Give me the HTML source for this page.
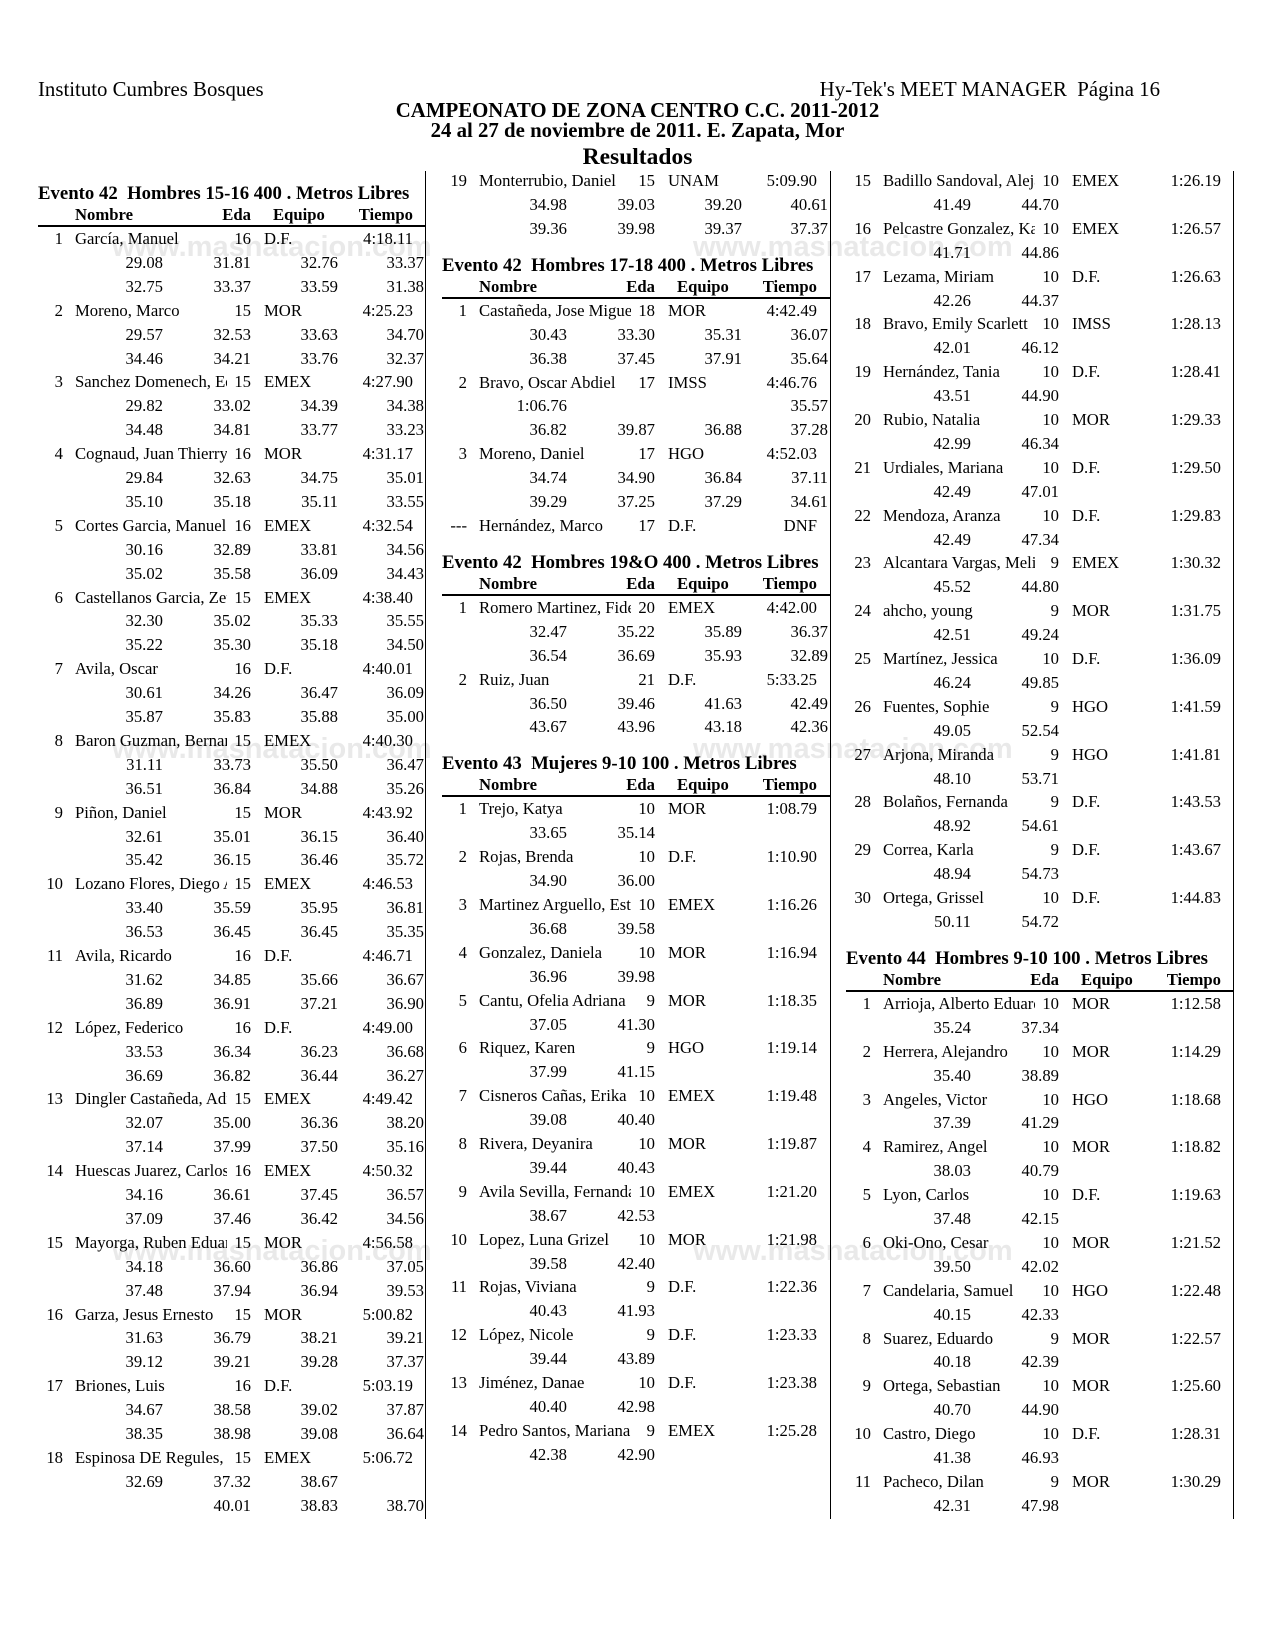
<!DOCTYPE html>
<html>
<head>
<meta charset="utf-8">
<style>
html,body{margin:0;padding:0;}
body{width:1275px;height:1650px;background:#fff;position:relative;overflow:hidden;font-family:"Liberation Serif","Times New Roman",serif;color:#000;}
.hd{position:absolute;font-size:20.83px;line-height:24px;white-space:pre;}
.bd{font-weight:bold;}
.c{position:absolute;top:0;width:390px;height:1650px;}
.r{position:absolute;left:0;width:390px;height:20px;line-height:20px;font-size:16.67px;white-space:nowrap;}
.r span{position:absolute;top:0;white-space:nowrap;}
.p{left:0;width:25px;text-align:right;}
.n{left:37px;width:152px;overflow:hidden;}
.a{left:190px;width:23px;text-align:right;}
.t{left:226px;}
.m{left:295px;width:80px;text-align:right;}
.s1{left:55px;width:70px;text-align:right;}
.s2{left:143px;width:70px;text-align:right;}
.s3{left:230px;width:70px;text-align:right;}
.s4{left:316px;width:70px;text-align:right;}
.ti{position:absolute;left:0;font-weight:bold;font-size:18.75px;line-height:22px;white-space:pre;}
.h{position:absolute;left:0;width:390px;height:20px;line-height:20px;font-size:16.67px;font-weight:bold;}
.h span{position:absolute;top:0;}
.ul{position:absolute;left:0;width:388px;height:2px;background:#000;}
.vl{position:absolute;width:1px;background:#000;top:171px;height:1348px;}
.wm{position:absolute;font-family:"Liberation Sans","DejaVu Sans",sans-serif;font-weight:bold;font-size:29px;line-height:29px;color:#e9e9e9;white-space:nowrap;}
</style>
</head>
<body>
<!-- watermarks -->
<div class="wm" style="left:112px;top:233px">www.masnatacion.com</div>
<div class="wm" style="left:693px;top:233px">www.masnatacion.com</div>
<div class="wm" style="left:112px;top:735px">www.masnatacion.com</div>
<div class="wm" style="left:693px;top:735px">www.masnatacion.com</div>
<div class="wm" style="left:112px;top:1237px">www.masnatacion.com</div>
<div class="wm" style="left:693px;top:1237px">www.masnatacion.com</div>

<!-- header -->
<div class="hd" style="left:38px;top:77px">Instituto Cumbres Bosques</div>
<div class="hd" style="right:115px;top:77px">Hy-Tek's MEET MANAGER  Página 16</div>
<div class="hd bd" style="left:0;width:1275px;text-align:center;top:98px">CAMPEONATO DE ZONA CENTRO C.C. 2011-2012</div>
<div class="hd bd" style="left:0;width:1275px;text-align:center;top:118px">24 al 27 de noviembre de 2011. E. Zapata, Mor</div>
<div class="hd bd" style="left:0;width:1275px;text-align:center;top:143px;font-size:23.5px;line-height:28px">Resultados</div>

<div class="vl" style="left:425px"></div>
<div class="vl" style="left:830px"></div>
<div class="vl" style="left:1233px"></div>

<!-- COLUMN 1 -->
<div class="c" style="left:38px">
<div class="ti" style="top:183px">Evento 42  Hombres 15-16 400 . Metros Libres</div>
<div class="h" style="top:205px"><span style="left:37px">Nombre</span><span style="left:163px;width:50px;text-align:right">Eda</span><span style="left:235px">Equipo</span><span style="left:295px;width:80px;text-align:right">Tiempo</span></div>
<div class="ul" style="top:225px"></div>

<div class="r" style="top:229px"><span class="p">1</span><span class="n">García, Manuel</span><span class="a">16</span><span class="t">D.F.</span><span class="m">4:18.11</span></div>
<div class="r" style="top:252.9px"><span class="s1">29.08</span><span class="s2">31.81</span><span class="s3">32.76</span><span class="s4">33.37</span></div>
<div class="r" style="top:276.8px"><span class="s1">32.75</span><span class="s2">33.37</span><span class="s3">33.59</span><span class="s4">31.38</span></div>

<div class="r" style="top:300.7px"><span class="p">2</span><span class="n">Moreno, Marco</span><span class="a">15</span><span class="t">MOR</span><span class="m">4:25.23</span></div>
<div class="r" style="top:324.6px"><span class="s1">29.57</span><span class="s2">32.53</span><span class="s3">33.63</span><span class="s4">34.70</span></div>
<div class="r" style="top:348.5px"><span class="s1">34.46</span><span class="s2">34.21</span><span class="s3">33.76</span><span class="s4">32.37</span></div>

<div class="r" style="top:372.4px"><span class="p">3</span><span class="n">Sanchez Domenech, Eduardo</span><span class="a">15</span><span class="t">EMEX</span><span class="m">4:27.90</span></div>
<div class="r" style="top:396.3px"><span class="s1">29.82</span><span class="s2">33.02</span><span class="s3">34.39</span><span class="s4">34.38</span></div>
<div class="r" style="top:420.2px"><span class="s1">34.48</span><span class="s2">34.81</span><span class="s3">33.77</span><span class="s4">33.23</span></div>

<div class="r" style="top:444.1px"><span class="p">4</span><span class="n">Cognaud, Juan Thierry</span><span class="a">16</span><span class="t">MOR</span><span class="m">4:31.17</span></div>
<div class="r" style="top:468px"><span class="s1">29.84</span><span class="s2">32.63</span><span class="s3">34.75</span><span class="s4">35.01</span></div>
<div class="r" style="top:491.9px"><span class="s1">35.10</span><span class="s2">35.18</span><span class="s3">35.11</span><span class="s4">33.55</span></div>

<div class="r" style="top:515.8px"><span class="p">5</span><span class="n">Cortes Garcia, Manuel</span><span class="a">16</span><span class="t">EMEX</span><span class="m">4:32.54</span></div>
<div class="r" style="top:539.7px"><span class="s1">30.16</span><span class="s2">32.89</span><span class="s3">33.81</span><span class="s4">34.56</span></div>
<div class="r" style="top:563.6px"><span class="s1">35.02</span><span class="s2">35.58</span><span class="s3">36.09</span><span class="s4">34.43</span></div>

<div class="r" style="top:587.5px"><span class="p">6</span><span class="n">Castellanos Garcia, Zeus</span><span class="a">15</span><span class="t">EMEX</span><span class="m">4:38.40</span></div>
<div class="r" style="top:611.4px"><span class="s1">32.30</span><span class="s2">35.02</span><span class="s3">35.33</span><span class="s4">35.55</span></div>
<div class="r" style="top:635.3px"><span class="s1">35.22</span><span class="s2">35.30</span><span class="s3">35.18</span><span class="s4">34.50</span></div>

<div class="r" style="top:659.2px"><span class="p">7</span><span class="n">Avila, Oscar</span><span class="a">16</span><span class="t">D.F.</span><span class="m">4:40.01</span></div>
<div class="r" style="top:683.1px"><span class="s1">30.61</span><span class="s2">34.26</span><span class="s3">36.47</span><span class="s4">36.09</span></div>
<div class="r" style="top:707px"><span class="s1">35.87</span><span class="s2">35.83</span><span class="s3">35.88</span><span class="s4">35.00</span></div>

<div class="r" style="top:730.9px"><span class="p">8</span><span class="n">Baron Guzman, Bernardo</span><span class="a">15</span><span class="t">EMEX</span><span class="m">4:40.30</span></div>
<div class="r" style="top:754.8px"><span class="s1">31.11</span><span class="s2">33.73</span><span class="s3">35.50</span><span class="s4">36.47</span></div>
<div class="r" style="top:778.7px"><span class="s1">36.51</span><span class="s2">36.84</span><span class="s3">34.88</span><span class="s4">35.26</span></div>

<div class="r" style="top:802.6px"><span class="p">9</span><span class="n">Piñon, Daniel</span><span class="a">15</span><span class="t">MOR</span><span class="m">4:43.92</span></div>
<div class="r" style="top:826.5px"><span class="s1">32.61</span><span class="s2">35.01</span><span class="s3">36.15</span><span class="s4">36.40</span></div>
<div class="r" style="top:850.4px"><span class="s1">35.42</span><span class="s2">36.15</span><span class="s3">36.46</span><span class="s4">35.72</span></div>

<div class="r" style="top:874.3px"><span class="p">10</span><span class="n">Lozano Flores, Diego A</span><span class="a">15</span><span class="t">EMEX</span><span class="m">4:46.53</span></div>
<div class="r" style="top:898.2px"><span class="s1">33.40</span><span class="s2">35.59</span><span class="s3">35.95</span><span class="s4">36.81</span></div>
<div class="r" style="top:922.1px"><span class="s1">36.53</span><span class="s2">36.45</span><span class="s3">36.45</span><span class="s4">35.35</span></div>

<div class="r" style="top:946px"><span class="p">11</span><span class="n">Avila, Ricardo</span><span class="a">16</span><span class="t">D.F.</span><span class="m">4:46.71</span></div>
<div class="r" style="top:969.9px"><span class="s1">31.62</span><span class="s2">34.85</span><span class="s3">35.66</span><span class="s4">36.67</span></div>
<div class="r" style="top:993.8px"><span class="s1">36.89</span><span class="s2">36.91</span><span class="s3">37.21</span><span class="s4">36.90</span></div>

<div class="r" style="top:1017.7px"><span class="p">12</span><span class="n">López, Federico</span><span class="a">16</span><span class="t">D.F.</span><span class="m">4:49.00</span></div>
<div class="r" style="top:1041.6px"><span class="s1">33.53</span><span class="s2">36.34</span><span class="s3">36.23</span><span class="s4">36.68</span></div>
<div class="r" style="top:1065.5px"><span class="s1">36.69</span><span class="s2">36.82</span><span class="s3">36.44</span><span class="s4">36.27</span></div>

<div class="r" style="top:1089.4px"><span class="p">13</span><span class="n">Dingler Castañeda, Adrian</span><span class="a">15</span><span class="t">EMEX</span><span class="m">4:49.42</span></div>
<div class="r" style="top:1113.3px"><span class="s1">32.07</span><span class="s2">35.00</span><span class="s3">36.36</span><span class="s4">38.20</span></div>
<div class="r" style="top:1137.2px"><span class="s1">37.14</span><span class="s2">37.99</span><span class="s3">37.50</span><span class="s4">35.16</span></div>

<div class="r" style="top:1161.1px"><span class="p">14</span><span class="n">Huescas Juarez, Carlos</span><span class="a">16</span><span class="t">EMEX</span><span class="m">4:50.32</span></div>
<div class="r" style="top:1185px"><span class="s1">34.16</span><span class="s2">36.61</span><span class="s3">37.45</span><span class="s4">36.57</span></div>
<div class="r" style="top:1208.9px"><span class="s1">37.09</span><span class="s2">37.46</span><span class="s3">36.42</span><span class="s4">34.56</span></div>

<div class="r" style="top:1232.8px"><span class="p">15</span><span class="n">Mayorga, Ruben Eduardo</span><span class="a">15</span><span class="t">MOR</span><span class="m">4:56.58</span></div>
<div class="r" style="top:1256.7px"><span class="s1">34.18</span><span class="s2">36.60</span><span class="s3">36.86</span><span class="s4">37.05</span></div>
<div class="r" style="top:1280.6px"><span class="s1">37.48</span><span class="s2">37.94</span><span class="s3">36.94</span><span class="s4">39.53</span></div>

<div class="r" style="top:1304.5px"><span class="p">16</span><span class="n">Garza, Jesus Ernesto</span><span class="a">15</span><span class="t">MOR</span><span class="m">5:00.82</span></div>
<div class="r" style="top:1328.4px"><span class="s1">31.63</span><span class="s2">36.79</span><span class="s3">38.21</span><span class="s4">39.21</span></div>
<div class="r" style="top:1352.3px"><span class="s1">39.12</span><span class="s2">39.21</span><span class="s3">39.28</span><span class="s4">37.37</span></div>

<div class="r" style="top:1376.2px"><span class="p">17</span><span class="n">Briones, Luis</span><span class="a">16</span><span class="t">D.F.</span><span class="m">5:03.19</span></div>
<div class="r" style="top:1400.1px"><span class="s1">34.67</span><span class="s2">38.58</span><span class="s3">39.02</span><span class="s4">37.87</span></div>
<div class="r" style="top:1424px"><span class="s1">38.35</span><span class="s2">38.98</span><span class="s3">39.08</span><span class="s4">36.64</span></div>

<div class="r" style="top:1447.9px"><span class="p">18</span><span class="n">Espinosa DE Regules, </span><span class="a">15</span><span class="t">EMEX</span><span class="m">5:06.72</span></div>
<div class="r" style="top:1471.8px"><span class="s1">32.69</span><span class="s2">37.32</span><span class="s3">38.67</span></div>
<div class="r" style="top:1495.7px"><span class="s2">40.01</span><span class="s3">38.83</span><span class="s4">38.70</span></div>
</div>

<!-- COLUMN 2 -->
<div class="c" style="left:442px">
<div class="r" style="top:171px"><span class="p">19</span><span class="n">Monterrubio, Daniel</span><span class="a">15</span><span class="t">UNAM</span><span class="m">5:09.90</span></div>
<div class="r" style="top:194.9px"><span class="s1">34.98</span><span class="s2">39.03</span><span class="s3">39.20</span><span class="s4">40.61</span></div>
<div class="r" style="top:218.8px"><span class="s1">39.36</span><span class="s2">39.98</span><span class="s3">39.37</span><span class="s4">37.37</span></div>

<div class="ti" style="top:254.8px">Evento 42  Hombres 17-18 400 . Metros Libres</div>
<div class="h" style="top:276.8px"><span style="left:37px">Nombre</span><span style="left:163px;width:50px;text-align:right">Eda</span><span style="left:235px">Equipo</span><span style="left:295px;width:80px;text-align:right">Tiempo</span></div>
<div class="ul" style="top:296.8px"></div>

<div class="r" style="top:300.8px"><span class="p">1</span><span class="n">Castañeda, Jose Miguel</span><span class="a">18</span><span class="t">MOR</span><span class="m">4:42.49</span></div>
<div class="r" style="top:324.7px"><span class="s1">30.43</span><span class="s2">33.30</span><span class="s3">35.31</span><span class="s4">36.07</span></div>
<div class="r" style="top:348.6px"><span class="s1">36.38</span><span class="s2">37.45</span><span class="s3">37.91</span><span class="s4">35.64</span></div>

<div class="r" style="top:372.5px"><span class="p">2</span><span class="n">Bravo, Oscar Abdiel</span><span class="a">17</span><span class="t">IMSS</span><span class="m">4:46.76</span></div>
<div class="r" style="top:396.4px"><span class="s1">1:06.76</span><span class="s4">35.57</span></div>
<div class="r" style="top:420.3px"><span class="s1">36.82</span><span class="s2">39.87</span><span class="s3">36.88</span><span class="s4">37.28</span></div>

<div class="r" style="top:444.2px"><span class="p">3</span><span class="n">Moreno, Daniel</span><span class="a">17</span><span class="t">HGO</span><span class="m">4:52.03</span></div>
<div class="r" style="top:468.1px"><span class="s1">34.74</span><span class="s2">34.90</span><span class="s3">36.84</span><span class="s4">37.11</span></div>
<div class="r" style="top:492px"><span class="s1">39.29</span><span class="s2">37.25</span><span class="s3">37.29</span><span class="s4">34.61</span></div>

<div class="r" style="top:515.9px"><span class="p">---</span><span class="n">Hernández, Marco</span><span class="a">17</span><span class="t">D.F.</span><span class="m">DNF</span></div>

<div class="ti" style="top:551.9px">Evento 42  Hombres 19&amp;O 400 . Metros Libres</div>
<div class="h" style="top:573.9px"><span style="left:37px">Nombre</span><span style="left:163px;width:50px;text-align:right">Eda</span><span style="left:235px">Equipo</span><span style="left:295px;width:80px;text-align:right">Tiempo</span></div>
<div class="ul" style="top:593.9px"></div>

<div class="r" style="top:597.9px"><span class="p">1</span><span class="n">Romero Martinez, Fidel</span><span class="a">20</span><span class="t">EMEX</span><span class="m">4:42.00</span></div>
<div class="r" style="top:621.8px"><span class="s1">32.47</span><span class="s2">35.22</span><span class="s3">35.89</span><span class="s4">36.37</span></div>
<div class="r" style="top:645.7px"><span class="s1">36.54</span><span class="s2">36.69</span><span class="s3">35.93</span><span class="s4">32.89</span></div>

<div class="r" style="top:669.6px"><span class="p">2</span><span class="n">Ruiz, Juan</span><span class="a">21</span><span class="t">D.F.</span><span class="m">5:33.25</span></div>
<div class="r" style="top:693.5px"><span class="s1">36.50</span><span class="s2">39.46</span><span class="s3">41.63</span><span class="s4">42.49</span></div>
<div class="r" style="top:717.4px"><span class="s1">43.67</span><span class="s2">43.96</span><span class="s3">43.18</span><span class="s4">42.36</span></div>

<div class="ti" style="top:753.4px">Evento 43  Mujeres 9-10 100 . Metros Libres</div>
<div class="h" style="top:775.4px"><span style="left:37px">Nombre</span><span style="left:163px;width:50px;text-align:right">Eda</span><span style="left:235px">Equipo</span><span style="left:295px;width:80px;text-align:right">Tiempo</span></div>
<div class="ul" style="top:795.4px"></div>

<div class="r" style="top:799.4px"><span class="p">1</span><span class="n">Trejo, Katya</span><span class="a">10</span><span class="t">MOR</span><span class="m">1:08.79</span></div>
<div class="r" style="top:823.3px"><span class="s1">33.65</span><span class="s2">35.14</span></div>
<div class="r" style="top:847.2px"><span class="p">2</span><span class="n">Rojas, Brenda</span><span class="a">10</span><span class="t">D.F.</span><span class="m">1:10.90</span></div>
<div class="r" style="top:871.1px"><span class="s1">34.90</span><span class="s2">36.00</span></div>
<div class="r" style="top:895px"><span class="p">3</span><span class="n">Martinez Arguello, Estefania</span><span class="a">10</span><span class="t">EMEX</span><span class="m">1:16.26</span></div>
<div class="r" style="top:918.9px"><span class="s1">36.68</span><span class="s2">39.58</span></div>
<div class="r" style="top:942.8px"><span class="p">4</span><span class="n">Gonzalez, Daniela</span><span class="a">10</span><span class="t">MOR</span><span class="m">1:16.94</span></div>
<div class="r" style="top:966.7px"><span class="s1">36.96</span><span class="s2">39.98</span></div>
<div class="r" style="top:990.6px"><span class="p">5</span><span class="n">Cantu, Ofelia Adriana</span><span class="a">9</span><span class="t">MOR</span><span class="m">1:18.35</span></div>
<div class="r" style="top:1014.5px"><span class="s1">37.05</span><span class="s2">41.30</span></div>
<div class="r" style="top:1038.4px"><span class="p">6</span><span class="n">Riquez, Karen</span><span class="a">9</span><span class="t">HGO</span><span class="m">1:19.14</span></div>
<div class="r" style="top:1062.3px"><span class="s1">37.99</span><span class="s2">41.15</span></div>
<div class="r" style="top:1086.2px"><span class="p">7</span><span class="n">Cisneros Cañas, Erika</span><span class="a">10</span><span class="t">EMEX</span><span class="m">1:19.48</span></div>
<div class="r" style="top:1110.1px"><span class="s1">39.08</span><span class="s2">40.40</span></div>
<div class="r" style="top:1134px"><span class="p">8</span><span class="n">Rivera, Deyanira</span><span class="a">10</span><span class="t">MOR</span><span class="m">1:19.87</span></div>
<div class="r" style="top:1157.9px"><span class="s1">39.44</span><span class="s2">40.43</span></div>
<div class="r" style="top:1181.8px"><span class="p">9</span><span class="n">Avila Sevilla, Fernanda</span><span class="a">10</span><span class="t">EMEX</span><span class="m">1:21.20</span></div>
<div class="r" style="top:1205.7px"><span class="s1">38.67</span><span class="s2">42.53</span></div>
<div class="r" style="top:1229.6px"><span class="p">10</span><span class="n">Lopez, Luna Grizel</span><span class="a">10</span><span class="t">MOR</span><span class="m">1:21.98</span></div>
<div class="r" style="top:1253.5px"><span class="s1">39.58</span><span class="s2">42.40</span></div>
<div class="r" style="top:1277.4px"><span class="p">11</span><span class="n">Rojas, Viviana</span><span class="a">9</span><span class="t">D.F.</span><span class="m">1:22.36</span></div>
<div class="r" style="top:1301.3px"><span class="s1">40.43</span><span class="s2">41.93</span></div>
<div class="r" style="top:1325.2px"><span class="p">12</span><span class="n">López, Nicole</span><span class="a">9</span><span class="t">D.F.</span><span class="m">1:23.33</span></div>
<div class="r" style="top:1349.1px"><span class="s1">39.44</span><span class="s2">43.89</span></div>
<div class="r" style="top:1373px"><span class="p">13</span><span class="n">Jiménez, Danae</span><span class="a">10</span><span class="t">D.F.</span><span class="m">1:23.38</span></div>
<div class="r" style="top:1396.9px"><span class="s1">40.40</span><span class="s2">42.98</span></div>
<div class="r" style="top:1420.8px"><span class="p">14</span><span class="n">Pedro Santos, Mariana</span><span class="a">9</span><span class="t">EMEX</span><span class="m">1:25.28</span></div>
<div class="r" style="top:1444.7px"><span class="s1">42.38</span><span class="s2">42.90</span></div>
</div>

<!-- COLUMN 3 -->
<div class="c" style="left:846px">
<div class="r" style="top:171px"><span class="p">15</span><span class="n">Badillo Sandoval, Alejandra</span><span class="a">10</span><span class="t">EMEX</span><span class="m">1:26.19</span></div>
<div class="r" style="top:194.9px"><span class="s1">41.49</span><span class="s2">44.70</span></div>
<div class="r" style="top:218.8px"><span class="p">16</span><span class="n">Pelcastre Gonzalez, Karla</span><span class="a">10</span><span class="t">EMEX</span><span class="m">1:26.57</span></div>
<div class="r" style="top:242.7px"><span class="s1">41.71</span><span class="s2">44.86</span></div>
<div class="r" style="top:266.6px"><span class="p">17</span><span class="n">Lezama, Miriam</span><span class="a">10</span><span class="t">D.F.</span><span class="m">1:26.63</span></div>
<div class="r" style="top:290.5px"><span class="s1">42.26</span><span class="s2">44.37</span></div>
<div class="r" style="top:314.4px"><span class="p">18</span><span class="n">Bravo, Emily Scarlett</span><span class="a">10</span><span class="t">IMSS</span><span class="m">1:28.13</span></div>
<div class="r" style="top:338.3px"><span class="s1">42.01</span><span class="s2">46.12</span></div>
<div class="r" style="top:362.2px"><span class="p">19</span><span class="n">Hernández, Tania</span><span class="a">10</span><span class="t">D.F.</span><span class="m">1:28.41</span></div>
<div class="r" style="top:386.1px"><span class="s1">43.51</span><span class="s2">44.90</span></div>
<div class="r" style="top:410px"><span class="p">20</span><span class="n">Rubio, Natalia</span><span class="a">10</span><span class="t">MOR</span><span class="m">1:29.33</span></div>
<div class="r" style="top:433.9px"><span class="s1">42.99</span><span class="s2">46.34</span></div>
<div class="r" style="top:457.8px"><span class="p">21</span><span class="n">Urdiales, Mariana</span><span class="a">10</span><span class="t">D.F.</span><span class="m">1:29.50</span></div>
<div class="r" style="top:481.7px"><span class="s1">42.49</span><span class="s2">47.01</span></div>
<div class="r" style="top:505.6px"><span class="p">22</span><span class="n">Mendoza, Aranza</span><span class="a">10</span><span class="t">D.F.</span><span class="m">1:29.83</span></div>
<div class="r" style="top:529.5px"><span class="s1">42.49</span><span class="s2">47.34</span></div>
<div class="r" style="top:553.4px"><span class="p">23</span><span class="n">Alcantara Vargas, Melissa</span><span class="a">9</span><span class="t">EMEX</span><span class="m">1:30.32</span></div>
<div class="r" style="top:577.3px"><span class="s1">45.52</span><span class="s2">44.80</span></div>
<div class="r" style="top:601.2px"><span class="p">24</span><span class="n">ahcho, young</span><span class="a">9</span><span class="t">MOR</span><span class="m">1:31.75</span></div>
<div class="r" style="top:625.1px"><span class="s1">42.51</span><span class="s2">49.24</span></div>
<div class="r" style="top:649px"><span class="p">25</span><span class="n">Martínez, Jessica</span><span class="a">10</span><span class="t">D.F.</span><span class="m">1:36.09</span></div>
<div class="r" style="top:672.9px"><span class="s1">46.24</span><span class="s2">49.85</span></div>
<div class="r" style="top:696.8px"><span class="p">26</span><span class="n">Fuentes, Sophie</span><span class="a">9</span><span class="t">HGO</span><span class="m">1:41.59</span></div>
<div class="r" style="top:720.7px"><span class="s1">49.05</span><span class="s2">52.54</span></div>
<div class="r" style="top:744.6px"><span class="p">27</span><span class="n">Arjona, Miranda</span><span class="a">9</span><span class="t">HGO</span><span class="m">1:41.81</span></div>
<div class="r" style="top:768.5px"><span class="s1">48.10</span><span class="s2">53.71</span></div>
<div class="r" style="top:792.4px"><span class="p">28</span><span class="n">Bolaños, Fernanda</span><span class="a">9</span><span class="t">D.F.</span><span class="m">1:43.53</span></div>
<div class="r" style="top:816.3px"><span class="s1">48.92</span><span class="s2">54.61</span></div>
<div class="r" style="top:840.2px"><span class="p">29</span><span class="n">Correa, Karla</span><span class="a">9</span><span class="t">D.F.</span><span class="m">1:43.67</span></div>
<div class="r" style="top:864.1px"><span class="s1">48.94</span><span class="s2">54.73</span></div>
<div class="r" style="top:888px"><span class="p">30</span><span class="n">Ortega, Grissel</span><span class="a">10</span><span class="t">D.F.</span><span class="m">1:44.83</span></div>
<div class="r" style="top:911.9px"><span class="s1">50.11</span><span class="s2">54.72</span></div>

<div class="ti" style="top:947.9px">Evento 44  Hombres 9-10 100 . Metros Libres</div>
<div class="h" style="top:969.9px"><span style="left:37px">Nombre</span><span style="left:163px;width:50px;text-align:right">Eda</span><span style="left:235px">Equipo</span><span style="left:295px;width:80px;text-align:right">Tiempo</span></div>
<div class="ul" style="top:989.9px"></div>

<div class="r" style="top:993.9px"><span class="p">1</span><span class="n">Arrioja, Alberto Eduardo</span><span class="a">10</span><span class="t">MOR</span><span class="m">1:12.58</span></div>
<div class="r" style="top:1017.8px"><span class="s1">35.24</span><span class="s2">37.34</span></div>
<div class="r" style="top:1041.7px"><span class="p">2</span><span class="n">Herrera, Alejandro</span><span class="a">10</span><span class="t">MOR</span><span class="m">1:14.29</span></div>
<div class="r" style="top:1065.6px"><span class="s1">35.40</span><span class="s2">38.89</span></div>
<div class="r" style="top:1089.5px"><span class="p">3</span><span class="n">Angeles, Victor</span><span class="a">10</span><span class="t">HGO</span><span class="m">1:18.68</span></div>
<div class="r" style="top:1113.4px"><span class="s1">37.39</span><span class="s2">41.29</span></div>
<div class="r" style="top:1137.3px"><span class="p">4</span><span class="n">Ramirez, Angel</span><span class="a">10</span><span class="t">MOR</span><span class="m">1:18.82</span></div>
<div class="r" style="top:1161.2px"><span class="s1">38.03</span><span class="s2">40.79</span></div>
<div class="r" style="top:1185.1px"><span class="p">5</span><span class="n">Lyon, Carlos</span><span class="a">10</span><span class="t">D.F.</span><span class="m">1:19.63</span></div>
<div class="r" style="top:1209px"><span class="s1">37.48</span><span class="s2">42.15</span></div>
<div class="r" style="top:1232.9px"><span class="p">6</span><span class="n">Oki-Ono, Cesar</span><span class="a">10</span><span class="t">MOR</span><span class="m">1:21.52</span></div>
<div class="r" style="top:1256.8px"><span class="s1">39.50</span><span class="s2">42.02</span></div>
<div class="r" style="top:1280.7px"><span class="p">7</span><span class="n">Candelaria, Samuel</span><span class="a">10</span><span class="t">HGO</span><span class="m">1:22.48</span></div>
<div class="r" style="top:1304.6px"><span class="s1">40.15</span><span class="s2">42.33</span></div>
<div class="r" style="top:1328.5px"><span class="p">8</span><span class="n">Suarez, Eduardo</span><span class="a">9</span><span class="t">MOR</span><span class="m">1:22.57</span></div>
<div class="r" style="top:1352.4px"><span class="s1">40.18</span><span class="s2">42.39</span></div>
<div class="r" style="top:1376.3px"><span class="p">9</span><span class="n">Ortega, Sebastian</span><span class="a">10</span><span class="t">MOR</span><span class="m">1:25.60</span></div>
<div class="r" style="top:1400.2px"><span class="s1">40.70</span><span class="s2">44.90</span></div>
<div class="r" style="top:1424.1px"><span class="p">10</span><span class="n">Castro, Diego</span><span class="a">10</span><span class="t">D.F.</span><span class="m">1:28.31</span></div>
<div class="r" style="top:1448px"><span class="s1">41.38</span><span class="s2">46.93</span></div>
<div class="r" style="top:1471.9px"><span class="p">11</span><span class="n">Pacheco, Dilan</span><span class="a">9</span><span class="t">MOR</span><span class="m">1:30.29</span></div>
<div class="r" style="top:1495.8px"><span class="s1">42.31</span><span class="s2">47.98</span></div>
</div>
</body>
</html>
